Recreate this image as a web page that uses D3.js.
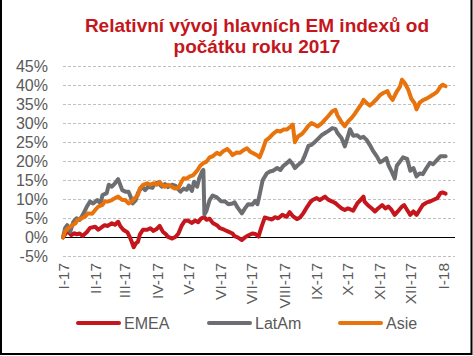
<!DOCTYPE html>
<html>
<head>
<meta charset="utf-8">
<script src="https://cdn.jsdelivr.net/npm/d3@7"></script>
<style>
  html, body { margin: 0; padding: 0; background: #fff; }
  svg { display: block; font-family: "Liberation Sans", Arial, sans-serif; }
</style>
</head>
<body>
<svg id="chart" width="473" height="356"></svg>
<script>
// ---- DATA (day = days since 1 Jan 2017, value = % change since start of 2017) ----
const titleLines = ["Relativní vývoj hlavních EM indexů od", "počátku roku 2017"];
const seriesNames = ["EMEA", "LatAm", "Asie"];
const yTicks = [-5, 0, 5, 10, 15, 20, 25, 30, 35, 40, 45];
const xLabels = ["I-17","II-17","III-17","IV-17","V-17","VI-17","VII-17","VIII-17","IX-17","X-17","XI-17","XII-17","I-18"];

const emea = [[0,0],[3,1.2],[5,1.5],[8,0.6],[11,1.1],[13,0.8],[16,1.0],[19,0.4],[23,1.4],[26,2.5],[31,2.8],[34,2.0],[38,2.8],[40,3.2],[43,3.0],[47,3.7],[50,3.3],[53,4.1],[55,3.0],[58,2.0],[62,1.3],[64,0.2],[66,-1.1],[68,-2.6],[70,-1.6],[72,-1.2],[74,0.8],[77,2.0],[81,2.0],[84,2.4],[87,1.7],[90,2.2],[93,3.0],[96,1.5],[99,0.8],[101,0.1],[105,-0.3],[108,0.1],[111,1.0],[114,3.0],[117,4.3],[120,4.4],[124,3.8],[127,4.4],[130,4.0],[133,5.0],[136,5.3],[138,4.6],[141,4.9],[144,3.8],[148,3.2],[151,2.4],[155,2.0],[159,1.5],[163,1.0],[165,0.3],[168,0.0],[172,-0.7],[175,0],[178,0.5],[182,1.0],[185,0.9],[188,0.2],[191,2.8],[194,5.2],[197,5.0],[201,4.7],[204,5.3],[207,5.0],[211,5.9],[215,5.4],[218,6.6],[221,5.6],[225,4.8],[228,5.2],[231,6.3],[235,8.1],[238,9.3],[240,9.8],[244,10.3],[247,9.8],[252,10.7],[255,9.9],[259,9.4],[262,9.0],[264,8.5],[268,7.6],[271,7.2],[274,7.6],[276,7.4],[279,7.0],[283,8.9],[286,9.8],[289,10.7],[290,9.4],[293,8.5],[297,7.6],[300,6.8],[303,7.6],[307,8.5],[310,7.6],[313,8.1],[316,7.2],[319,5.9],[322,6.8],[326,8.1],[328,8.5],[331,7.2],[334,5.9],[337,6.8],[340,5.9],[343,7.2],[346,8.5],[350,9.2],[353,9.4],[356,9.8],[360,10.3],[363,11.6],[365,11.8],[368,11.5]];

const latam = [[0,0],[2,2.4],[4,3.2],[7,1.5],[10,4.1],[13,5.0],[16,4.6],[19,5.9],[23,8.1],[26,9.4],[29,8.9],[33,9.8],[36,8.9],[38,11.1],[42,11.6],[44,13.8],[47,13.3],[50,14.2],[53,15.3],[57,12.4],[60,12.0],[63,12.0],[65,10.7],[67,8.9],[70,9.8],[72,11.6],[76,13.3],[79,12.4],[82,13.3],[86,13.0],[88,14.0],[91,14.4],[95,13.3],[98,14.0],[101,13.2],[105,13.8],[108,13.6],[111,12.6],[113,12.0],[116,12.8],[119,12.5],[121,13.6],[124,12.2],[126,14.6],[129,13.3],[131,15.5],[134,17.4],[135,17.7],[136,6.0],[138,7.0],[141,9.8],[144,11.0],[148,10.5],[152,9.5],[156,9.4],[159,8.7],[163,8.9],[165,9.2],[168,7.8],[172,6.3],[175,7.6],[178,8.7],[182,8.6],[185,9.6],[187,8.7],[189,11.1],[192,15.0],[196,16.8],[199,17.3],[202,17.5],[206,18.2],[209,17.7],[212,18.8],[215,19.4],[218,20.2],[221,19.2],[223,18.2],[226,19.0],[230,19.9],[233,21.8],[236,24.0],[239,24.3],[242,25.0],[245,25.8],[249,26.9],[252,27.4],[255,27.9],[259,28.7],[262,28.5],[264,27.4],[268,26.0],[271,23.9],[274,26.5],[276,28.4],[279,26.7],[283,26.8],[286,26.1],[289,26.4],[292,25.6],[295,24.3],[298,22.8],[302,21.2],[305,19.7],[308,20.2],[311,20.8],[313,19.0],[316,17.3],[319,15.5],[321,18.8],[324,19.9],[327,21.0],[331,20.6],[334,17.5],[337,18.2],[340,16.0],[343,16.8],[346,16.6],[350,18.4],[353,19.6],[356,19.2],[360,20.4],[363,21.3],[368,21.3]];

const asie = [[0,0],[2,1.5],[5,2.4],[9,3.2],[12,3.7],[14,4.6],[18,5.0],[21,5.4],[24,6.3],[28,6.2],[31,7.2],[34,8.1],[38,8.5],[40,9.4],[43,9.4],[47,9.8],[50,10.3],[53,10.7],[57,9.8],[60,9.8],[63,8.9],[66,9.4],[69,10.3],[72,11.1],[74,12.9],[77,13.8],[81,14.2],[84,13.8],[87,14.2],[90,13.8],[93,14.6],[95,13.8],[98,13.3],[101,13.8],[105,13.2],[108,12.8],[111,13.0],[114,14.6],[116,15.5],[119,15.4],[122,16.0],[125,16.3],[129,17.5],[132,18.8],[135,19.5],[138,19.9],[141,21.0],[144,21.3],[148,22.2],[151,21.8],[154,22.6],[158,23.2],[161,22.4],[163,21.6],[167,22.3],[170,22.2],[173,22.8],[177,23.4],[180,22.5],[183,22.1],[187,21.5],[189,21.0],[192,23.0],[195,25.4],[199,26.3],[202,27.2],[206,28.0],[209,27.8],[212,28.3],[215,28.3],[218,28.9],[221,29.6],[223,25.0],[226,26.5],[230,27.2],[233,28.2],[236,29.3],[239,30.0],[242,29.6],[245,29.1],[249,30.0],[252,30.9],[255,31.8],[259,33.1],[262,33.5],[264,32.0],[268,30.2],[271,29.2],[274,30.4],[278,31.5],[281,32.6],[284,33.8],[287,35.0],[289,36.1],[292,35.3],[295,34.6],[298,35.3],[302,36.4],[305,37.4],[308,37.9],[312,38.4],[314,37.2],[317,36.1],[321,38.3],[324,39.5],[326,41.4],[329,40.4],[332,38.8],[335,36.4],[338,35.3],[340,33.6],[343,35.4],[346,36.0],[350,36.5],[353,37.0],[356,37.5],[360,38.3],[363,39.6],[365,40.1],[368,39.7]];

const seriesData = [emea, latam, asie];
const colors = ["#C4161C", "#6D6E71", "#E8730C"];

// ---- CHART ----
const svg = d3.select("#chart");
const start = new Date(2017, 0, 1);
const dayToDate = d => d3.timeDay.offset(start, d);

const x = d3.scaleTime()
  .domain([start, d3.timeDay.offset(start, 377)])
  .range([63, 455]);
const y = d3.scaleLinear().domain([-5, 45]).range([256.4, 66]);

svg.append("rect").attr("width", 473).attr("height", 356).attr("fill", "#fff");

// Title
const title = svg.append("text")
  .attr("text-anchor", "middle")
  .attr("fill", "#C4161C")
  .style("font-weight", "bold")
  .style("font-size", "19px");
titleLines.forEach((t, i) => {
  title.append("tspan").attr("x", 257).attr("y", 32 + i * 20.5).text(t);
});

// Gridlines
svg.append("g").selectAll("line")
  .data(yTicks.filter(v => v !== 0))
  .join("line")
  .attr("x1", x.range()[0]).attr("x2", x.range()[1])
  .attr("y1", d => Math.round(y(d)) + 0.5).attr("y2", d => Math.round(y(d)) + 0.5)
  .attr("stroke", "#BFBFBF").attr("stroke-width", 1)
  .attr("stroke-dasharray", "3,2");

// Zero line
svg.append("line")
  .attr("x1", x.range()[0]).attr("x2", x.range()[1])
  .attr("y1", Math.round(y(0)) + 0.5).attr("y2", Math.round(y(0)) + 0.5)
  .attr("stroke", "#000").attr("stroke-width", 1.2);

// Y axis labels
const yAxis = svg.append("g")
  .attr("transform", `translate(${x.range()[0]},0)`)
  .call(d3.axisLeft(y).tickValues(yTicks).tickFormat(d => d + "%").tickSize(0).tickPadding(15));
yAxis.select(".domain").remove();
yAxis.selectAll("text")
  .attr("fill", "#595959")
  .style("font-size", "16px")
  .style("font-family", "'Liberation Sans', Arial, sans-serif");

// X axis labels
const monthDates = d3.timeMonth.range(start, new Date(2018, 0, 2));
const xAxis = svg.append("g")
  .attr("transform", `translate(0,${y(-5)})`)
  .call(d3.axisBottom(x).tickValues(monthDates).tickFormat((d, i) => xLabels[i]).tickSize(0));
xAxis.select(".domain").remove();
xAxis.selectAll("text")
  .attr("transform", "rotate(-90)")
  .attr("x", -6.5).attr("y", 0).attr("dy", "0.36em")
  .style("text-anchor", "end")
  .attr("fill", "#595959")
  .style("font-size", "15.5px")
  .style("font-family", "'Liberation Sans', Arial, sans-serif");

// Lines
const line = d3.line()
  .x(d => x(dayToDate(d[0])))
  .y(d => y(d[1]));

svg.append("g").selectAll("path")
  .data(seriesData)
  .join("path")
  .attr("d", line)
  .attr("fill", "none")
  .attr("stroke", (d, i) => colors[i])
  .attr("stroke-width", 4)
  .attr("stroke-linejoin", "round")
  .attr("stroke-linecap", "round");

// Legend
const legendX = [78, 209, 340];
const legend = svg.append("g").selectAll("g")
  .data(seriesNames)
  .join("g")
  .attr("transform", (d, i) => `translate(${legendX[i]},323)`);
legend.append("line")
  .attr("x1", 0).attr("x2", 41)
  .attr("stroke", (d, i) => colors[i])
  .attr("stroke-width", 4)
  .attr("stroke-linecap", "round");
legend.append("text")
  .attr("x", 46).attr("dy", "0.36em")
  .attr("fill", "#595959")
  .style("font-size", "16px")
  .text(d => d);

// Border
svg.append("path")
  .attr("d", "M1,0 V354 H471.5 V0")
  .attr("fill", "none")
  .attr("stroke", "#000")
  .attr("stroke-width", 2);
</script>
</body>
</html>
